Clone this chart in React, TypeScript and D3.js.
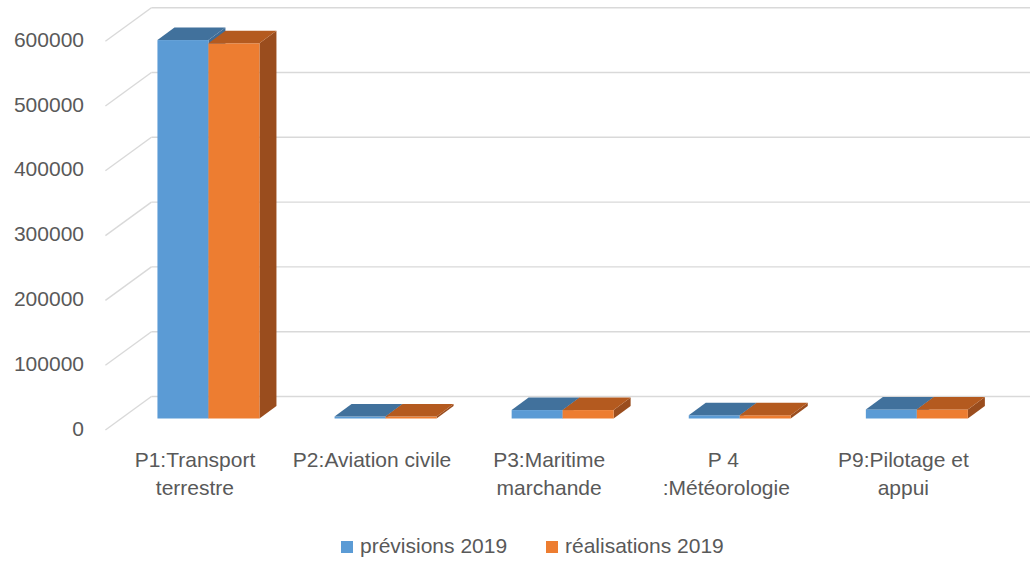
import React from "react";
import * as d3 from "d3";

const categories: string[][] = [
  ["P1:Transport", "terrestre"],
  ["P2:Aviation civile"],
  ["P3:Maritime", "marchande"],
  ["P 4 ", ":Météorologie"],
  ["P9:Pilotage et", "appui"],
];
const previsions: number[] = [584000, 3000, 13000, 5000, 14000];
const realisations: number[] = [579000, 3000, 13000, 5000, 14000];
const seriesNames: string[] = ["prévisions 2019", "réalisations 2019"];
const yTicks: number[] = [0, 100000, 200000, 300000, 400000, 500000, 600000];

const W = 1030;
const H = 565;
const FONT = "'Liberation Sans', Arial, sans-serif";
const TEXT = "#595959";
const GRID = "#D9D9D9";

const frontX0 = 106.4;
const band = 177.1;
const depth = { dx: 45, dy: -33.5 };
const barShift = 13.5; // front face offset in x
const barDepth = { dx: 17, dy: -12.5 };
const barW = 51;

const colors = [
  { front: "#5B9BD5", top: "#41719C", side: "#3E6C97" },
  { front: "#ED7D31", top: "#B45A1F", side: "#9A4D1E" },
];

export default function App() {
  const x = d3
    .scaleBand<number>()
    .domain(categories.map((_, i) => i))
    .range([frontX0, frontX0 + band * categories.length]);
  const yFront = d3.scaleLinear().domain([0, 600000]).range([430, 41.2]);
  const yBar = d3.scaleLinear().domain([0, 600000]).range([418.5, 418.5 - 388.8]);

  const series = [previsions, realisations];

  const pts = (p: number[][]) => p.map((q) => q.join(",")).join(" ");

  return (
    <svg
      width={W}
      height={H}
      style={{ position: "fixed", left: 0, top: 0, background: "#fff" }}
      fontFamily={FONT}
    >
      <rect x={0} y={0} width={W} height={H} fill="#fff" />
      {/* gridlines */}
      {yTicks.map((t) => {
        const yf = yFront(t);
        const xb = frontX0 + depth.dx;
        const yb = yf + depth.dy;
        return (
          <g key={t}>
            <line x1={frontX0 - 1} y1={yf} x2={xb} y2={yb} stroke={GRID} strokeWidth={1.4} />
            <line x1={xb} y1={yb} x2={W} y2={yb} stroke={GRID} strokeWidth={1.4} />
            <text
              x={84}
              y={yf}
              textAnchor="end"
              dominantBaseline="middle"
              fontSize={21}
              fill={TEXT}
            >
              {t}
            </text>
          </g>
        );
      })}
      {/* bars */}
      {categories.map((_, i) => {
        const cx = (x(i) as number) + x.bandwidth() / 2 + barShift;
        return (
          <g key={i}>
            {series.map((s, si) => {
              const x1 = cx - barW + si * barW;
              const x2 = x1 + barW;
              const y0 = yBar(0);
              const yt = yBar(s[i]);
              const c = colors[si];
              const { dx, dy } = barDepth;
              return (
                <g key={si}>
                  <polygon
                    points={pts([
                      [x2, yt],
                      [x2 + dx, yt + dy],
                      [x2 + dx, y0 + dy],
                      [x2, y0],
                    ])}
                    fill={c.side}
                  />
                  <rect x={x1} y={yt} width={barW} height={y0 - yt} fill={c.front} />
                  <polygon
                    points={pts([
                      [x1, yt],
                      [x2, yt],
                      [x2 + dx, yt + dy],
                      [x1 + dx, yt + dy],
                    ])}
                    fill={c.top}
                  />
                </g>
              );
            })}
          </g>
        );
      })}
      {/* category labels */}
      {categories.map((lines, i) => {
        const cx = (x(i) as number) + x.bandwidth() / 2;
        return (
          <text key={i} textAnchor="middle" fontSize={21} fill={TEXT} style={{ whiteSpace: "pre" }}>
            {lines.map((l, li) => (
              <tspan key={li} x={cx} y={467 + li * 28}>
                {l}
              </tspan>
            ))}
          </text>
        );
      })}
      {/* legend */}
      {seriesNames.map((n, i) => {
        const lx = i === 0 ? 341 : 546;
        return (
          <g key={n}>
            <rect x={lx} y={541} width={12} height={12} fill={colors[i].front} />
            <text x={lx + 19} y={547} dominantBaseline="middle" fontSize={21} fill={TEXT}>
              {n}
            </text>
          </g>
        );
      })}
    </svg>
  );
}
